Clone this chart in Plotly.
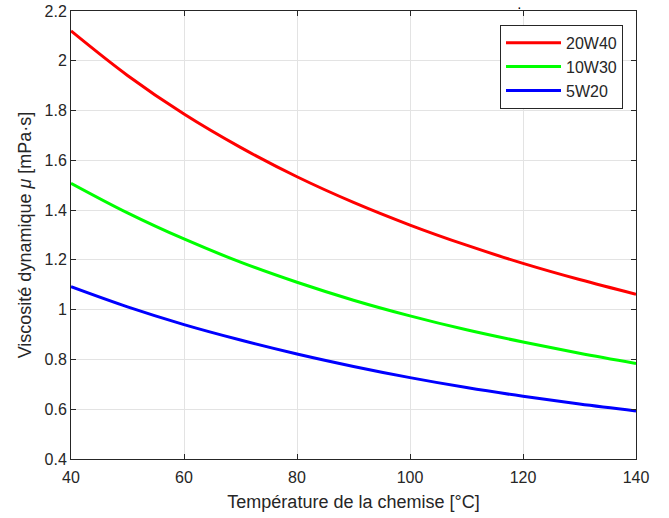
import plotly.graph_objects as go

temperature = [40, 50, 60, 70, 80, 90, 100, 110, 120, 130, 140]
visc_20w40 = [2.120, 1.941, 1.786, 1.652, 1.534, 1.431, 1.340, 1.259, 1.186, 1.121, 1.062]
visc_10w30 = [1.508, 1.389, 1.284, 1.191, 1.110, 1.038, 0.975, 0.919, 0.870, 0.825, 0.784]
visc_5w20 = [1.092, 1.011, 0.940, 0.878, 0.822, 0.772, 0.727, 0.687, 0.652, 0.621, 0.593]

series = [
    ("20W40", visc_20w40, "#ff0000"),
    ("10W30", visc_10w30, "#00ff00"),
    ("5W20", visc_5w20, "#0000ff"),
]

x_ticks = [40, 60, 80, 100, 120, 140]
y_ticks = [0.4, 0.6, 0.8, 1.0, 1.2, 1.4, 1.6, 1.8, 2.0, 2.2]
y_tick_labels = ["0.4", "0.6", "0.8", "1", "1.2", "1.4", "1.6", "1.8", "2", "2.2"]

FONT = "Liberation Sans, Arial, sans-serif"
AXC = "#262626"

fig = go.Figure()
for name, vals, col in series:
    fig.add_trace(go.Scatter(x=temperature, y=vals, name=name, mode="lines",
                             line=dict(color=col, width=3, shape="spline")))

axis_common = dict(
    showline=True, linecolor=AXC, linewidth=1, mirror="ticks",
    ticks="inside", ticklen=5, tickcolor=AXC, tickwidth=1,
    showgrid=True, gridcolor="#e3e3e3", gridwidth=1, zeroline=False,
    tickfont=dict(family=FONT, size=16, color=AXC), automargin=False,
)

fig.update_xaxes(range=[40, 140], tickvals=x_ticks, ticklabelstandoff=4,
                 title=dict(text="Température de la chemise [°C]",
                            font=dict(family=FONT, size=18, color=AXC), standoff=10),
                 **axis_common)
fig.update_yaxes(range=[0.4, 2.2], tickvals=y_ticks, ticktext=y_tick_labels,
                 title=dict(text="Viscosité dynamique <i>μ</i> [mPa·s]",
                            font=dict(family=FONT, size=18, color=AXC), standoff=8),
                 **axis_common)

fig.update_layout(
    width=669, height=518,
    margin=dict(l=71, r=33, t=11, b=59),
    paper_bgcolor="white", plot_bgcolor="white",
    font=dict(family=FONT, color=AXC),
    legend=dict(x=0.977, y=0.969, xanchor="right", yanchor="top",
                bgcolor="white", bordercolor=AXC, borderwidth=1,
                font=dict(family=FONT, size=16, color=AXC),
                tracegroupgap=0, itemwidth=55),
    showlegend=True,
    annotations=[dict(text="·", x=(524 - 71) / 565, y=(459 - 6) / 448,
                      xref="paper", yref="paper", showarrow=False, yshift=9,
                      font=dict(size=14, color="black"))],
)

fig.write_html("out.html")
